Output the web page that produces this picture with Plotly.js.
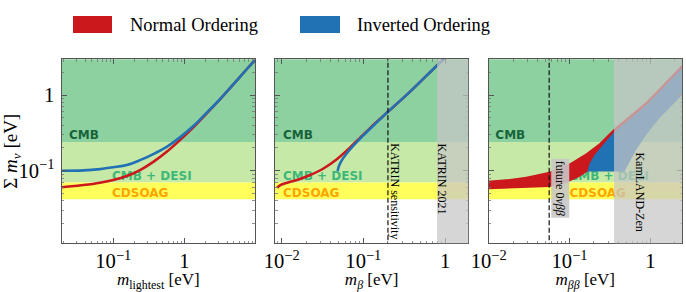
<!DOCTYPE html>
<html><head><meta charset="utf-8">
<script src="https://cdn.plot.ly/plotly-3.0.1.min.js"></script>
<style>html,body{margin:0;padding:0;background:#fff}#chart{width:686px;height:292px}</style>
</head><body><div id="chart"></div>
<script>
// ---------- data ----------
// Panel 1: sum of masses vs lightest mass
const mLightest = [0.0188, 0.038, 0.065, 0.1, 0.155, 0.238, 0.366, 0.565, 0.869, 1.34, 2.07, 3.18, 4.9, 7.56, 9.9];
const sumNO_lightest = [0.0604, 0.0647, 0.0695, 0.0753, 0.085, 0.102, 0.131, 0.178, 0.254, 0.374, 0.573, 0.877, 1.38, 2.19, 2.9];
const sumIO_lightest = [0.1, 0.101, 0.105, 0.111, 0.119, 0.138, 0.166, 0.207, 0.276, 0.389, 0.584, 0.88, 1.38, 2.19, 2.9];

// Panel 2: sum vs m_beta
const mBetaNO = [0.0088, 0.00964, 0.01165, 0.0154, 0.0224, 0.0325, 0.0474, 0.0689, 0.091, 0.121, 0.2, 0.371, 0.785, 0.97];
const sumNO_beta = [0.0596, 0.0647, 0.0695, 0.0753, 0.0878, 0.107, 0.142, 0.203, 0.272, 0.366, 0.6, 1.1, 2.42, 3.0];
const mBetaIO = [0.0485, 0.0501, 0.0546, 0.0628, 0.0756, 0.1, 0.146, 0.2, 0.371, 0.785, 0.97];
const sumIO_beta = [0.099, 0.114, 0.138, 0.17, 0.214, 0.293, 0.435, 0.6, 1.1, 2.42, 3.0];

// Panel 3: allowed regions in (m_bb, sum) plane, outlines
const mbbNO = [0.0095, 0.01656, 0.0292, 0.0566, 0.1, 0.161, 0.234, 0.36, 0.885, 2.47,
               2.47, 0.885, 0.36, 0.246, 0.166, 0.13, 0.0964, 0.075, 0.0566, 0.0241, 0.0095];
const sumNO_bb = [0.0738, 0.0769, 0.0833, 0.097, 0.125, 0.170, 0.230, 0.363, 0.81, 2.52,
                  2.2, 0.72, 0.32, 0.2, 0.097, 0.082, 0.071, 0.065, 0.061, 0.0586, 0.0568];
const mbbIO = [0.166, 0.177, 0.204, 0.246, 0.298, 0.36, 0.885, 2.47,
               2.47, 1.29, 0.885, 0.665, 0.55, 0.5, 0.477];
const sumIO_bb = [0.098, 0.125, 0.161, 0.207, 0.262, 0.327, 0.726, 2.27,
                  1.0, 0.492, 0.296, 0.188, 0.1315, 0.108, 0.098];

// Cosmological bands
const bandNames = ['CMB', 'CMB + DESI', 'CDSOAG'];
const bandLow = [0.24, 0.07, 0.042];
const bandHigh = [10, 0.24, 0.07];
const bandLabelY = [0.29, 0.0834, 0.0492];

// Experimental limits
const katrinSensitivity = 0.2;
const katrin2021 = 0.8;
const future0vbb = 0.056;
const kamlandZen = 0.355;

const seriesNames = ['Normal Ordering', 'Inverted Ordering'];

// ---------- styles ----------
const RED = '#cb181d', BLUE = '#2171b5';
const BAND_FILL = ['#8ed1a1', '#c7e9a7', '#ffff5c'];
const BAND_TEXT = ['#17643a', '#3cb878', '#ffa500'];
const GRAY = 'rgba(198,198,198,0.72)';
const SERIF = '"Liberation Serif", "Times New Roman", serif';
const SANS = '"DejaVu Sans", sans-serif';

const yRange = [Math.log10(0.011), Math.log10(2.965)];
const yDomain = [0.1668, 0.7969];

function xAxis(range, domain, anchor, title) {
  return {
    type: 'log', range: range, domain: domain, anchor: anchor,
    showgrid: false, zeroline: false, showline: true, linecolor: '#555', linewidth: 1,
    mirror: 'allticks', ticks: 'inside', ticklen: 5, tickcolor: '#555', tickwidth: 1,
    tickmode: 'linear', dtick: 1, exponentformat: 'power',
    minor: {dtick: 'D1', ticks: 'inside', ticklen: 2.5, tickcolor: '#777', tickwidth: 0.8},
    tickfont: {family: SERIF, size: 16.5, color: '#000'}, ticklabelstandoff: 0,
    title: {text: title, font: {family: SERIF, size: 17, color: '#000'}, standoff: 9}
  };
}
function yAxis(anchor, showLabels, title) {
  const a = {
    type: 'log', range: yRange, domain: yDomain, anchor: anchor,
    showgrid: false, zeroline: false, showline: true, linecolor: '#555', linewidth: 1,
    mirror: 'allticks', ticks: 'inside', ticklen: 5, tickcolor: '#555', tickwidth: 1,
    tickmode: 'linear', dtick: 1, exponentformat: 'power',
    minor: {dtick: 'D1', ticks: 'inside', ticklen: 2.5, tickcolor: '#777', tickwidth: 0.8},
    showticklabels: showLabels,
    tickfont: {family: SERIF, size: 16.5, color: '#000'}, ticklabelstandoff: 3
  };
  if (title) a.title = {text: title, font: {family: SERIF, size: 19, color: '#000'}, standoff: 7};
  return a;
}

const traces = [];
// band labels as text traces (so the grey limit bands can dim them)
const labelX = [[0.0238, 0.096, 0.096], [0.0104, 0.0104, 0.0104], [0.0121, 0.1, 0.1]];
const axesIds = [['x', 'y'], ['x2', 'y2'], ['x3', 'y3']];
axesIds.forEach((ax, i) => {
  traces.push({
    type: 'scatter', mode: 'text', xaxis: ax[0], yaxis: ax[1], showlegend: false, hoverinfo: 'skip',
    x: labelX[i], y: bandLabelY, text: bandNames.map(n => '<b>' + n + '</b>'),
    textposition: 'middle right', cliponaxis: false,
    textfont: {family: SANS, size: 12, color: BAND_TEXT}
  });
});

// Panel 1
traces.push({type: 'scatter', mode: 'lines', name: seriesNames[0], x: mLightest, y: sumNO_lightest,
  xaxis: 'x', yaxis: 'y', line: {color: RED, width: 2.6, shape: 'spline'}, showlegend: false});
traces.push({type: 'scatter', mode: 'lines', name: seriesNames[1], x: mLightest, y: sumIO_lightest,
  xaxis: 'x', yaxis: 'y', line: {color: BLUE, width: 2.6, shape: 'spline'}, showlegend: false});
// Panel 2
traces.push({type: 'scatter', mode: 'lines', name: seriesNames[0], x: mBetaNO, y: sumNO_beta,
  xaxis: 'x2', yaxis: 'y2', line: {color: RED, width: 2.6, shape: 'spline'}, showlegend: false});
traces.push({type: 'scatter', mode: 'lines', name: seriesNames[1], x: mBetaIO, y: sumIO_beta,
  xaxis: 'x2', yaxis: 'y2', line: {color: BLUE, width: 2.6, shape: 'spline'}, showlegend: false});
// Panel 3
traces.push({type: 'scatter', mode: 'lines', name: seriesNames[0], x: mbbNO, y: sumNO_bb,
  xaxis: 'x3', yaxis: 'y3', fill: 'toself', fillcolor: RED, line: {width: 0, color: RED}, showlegend: false});
traces.push({type: 'scatter', mode: 'lines', name: seriesNames[1], x: mbbIO, y: sumIO_bb,
  xaxis: 'x3', yaxis: 'y3', fill: 'toself', fillcolor: BLUE, line: {width: 0, color: BLUE}, showlegend: false});

const shapes = [];
axesIds.forEach(ax => {
  bandNames.forEach((n, j) => {
    shapes.push({type: 'rect', layer: 'below', xref: ax[0], yref: ax[1],
      x0: 1e-4, x1: 1e3, y0: bandLow[j], y1: bandHigh[j], fillcolor: BAND_FILL[j], line: {width: 0}});
  });
});
// limits
shapes.push({type: 'rect', layer: 'above', xref: 'x2', yref: 'y2', x0: katrin2021, x1: 1e3, y0: 1e-4, y1: 1e3,
  fillcolor: GRAY, line: {width: 0}});
shapes.push({type: 'rect', layer: 'above', xref: 'x3', yref: 'y3', x0: kamlandZen, x1: 1e3, y0: 1e-4, y1: 1e3,
  fillcolor: GRAY, line: {width: 0}});
shapes.push({type: 'line', layer: 'above', xref: 'x2', yref: 'y2', x0: katrinSensitivity, x1: katrinSensitivity,
  y0: 1e-4, y1: 1e3, line: {color: '#111', width: 1.2, dash: '5px,2.5px'}});
shapes.push({type: 'line', layer: 'above', xref: 'x3', yref: 'y3', x0: future0vbb, x1: future0vbb,
  y0: 1e-4, y1: 1e3, line: {color: '#111', width: 1.2, dash: '5px,2.5px'}});
// legend patches
shapes.push({type: 'rect', xref: 'paper', yref: 'paper', x0: 73/686, x1: 112/686, y0: 1-33/292, y1: 1-16/292,
  fillcolor: RED, line: {width: 0}});
shapes.push({type: 'rect', xref: 'paper', yref: 'paper', x0: 300/686, x1: 340/686, y0: 1-33/292, y1: 1-16/292,
  fillcolor: BLUE, line: {width: 0}});

const vfont = {family: SERIF, size: 12, color: '#000'};
const annotations = [
  {xref: 'paper', yref: 'paper', x: 128/686, y: 1-25/292, xanchor: 'left', yanchor: 'middle', showarrow: false,
   text: seriesNames[0], font: {family: SERIF, size: 18.5, color: '#000'}},
  {xref: 'paper', yref: 'paper', x: 355/686, y: 1-25/292, xanchor: 'left', yanchor: 'middle', showarrow: false,
   text: seriesNames[1], font: {family: SERIF, size: 18.5, color: '#000'}},
  {xref: 'x2', yref: 'y2', x: -0.608, y: -1.275, showarrow: false, textangle: 90, xanchor: 'center', yanchor: 'middle',
   text: 'KATRIN sensitivity', font: vfont},
  {xref: 'x2', yref: 'y2', x: -0.043, y: -1.11, showarrow: false, textangle: 90, xanchor: 'center', yanchor: 'middle',
   text: 'KATRIN 2021', font: vfont},
  {xref: 'x3', yref: 'y3', x: -1.115, y: -1.235, showarrow: false, textangle: 90, xanchor: 'center', yanchor: 'middle',
   text: 'future 0<i>νββ</i>', font: vfont, bgcolor: 'rgba(200,200,200,0.9)', borderpad: 1.5},
  {xref: 'x3', yref: 'y3', x: -0.127, y: -1.275, showarrow: false, textangle: 90, xanchor: 'center', yanchor: 'middle',
   text: 'KamLAND-Zen', font: vfont}
];

const layout = {
  width: 686, height: 292, margin: {l: 0, r: 0, t: 0, b: 0},
  paper_bgcolor: '#fff', plot_bgcolor: 'rgba(0,0,0,0)', showlegend: false,
  xaxis: xAxis([Math.log10(0.01875), Math.log10(9.9)], [0.0899, 0.3717], 'y', '<i>m</i><sub>lightest</sub> [eV]'),
  xaxis2: xAxis([-2.081, 0.285], [0.4009, 0.6827], 'y2', '<i>m</i><sub><i>β</i></sub> [eV]'),
  xaxis3: xAxis([-2.002, 0.391], [0.7121, 0.9942], 'y3', '<i>m</i><sub><i>ββ</i></sub> [eV]'),
  yaxis: yAxis('x', true, 'Σ <i>m</i><sub><i>ν</i></sub> [eV]'),
  yaxis2: yAxis('x2', false),
  yaxis3: yAxis('x3', false),
  shapes: shapes, annotations: annotations
};
Plotly.newPlot('chart', traces, layout, {staticPlot: true, displayModeBar: false});
</script></body></html>
